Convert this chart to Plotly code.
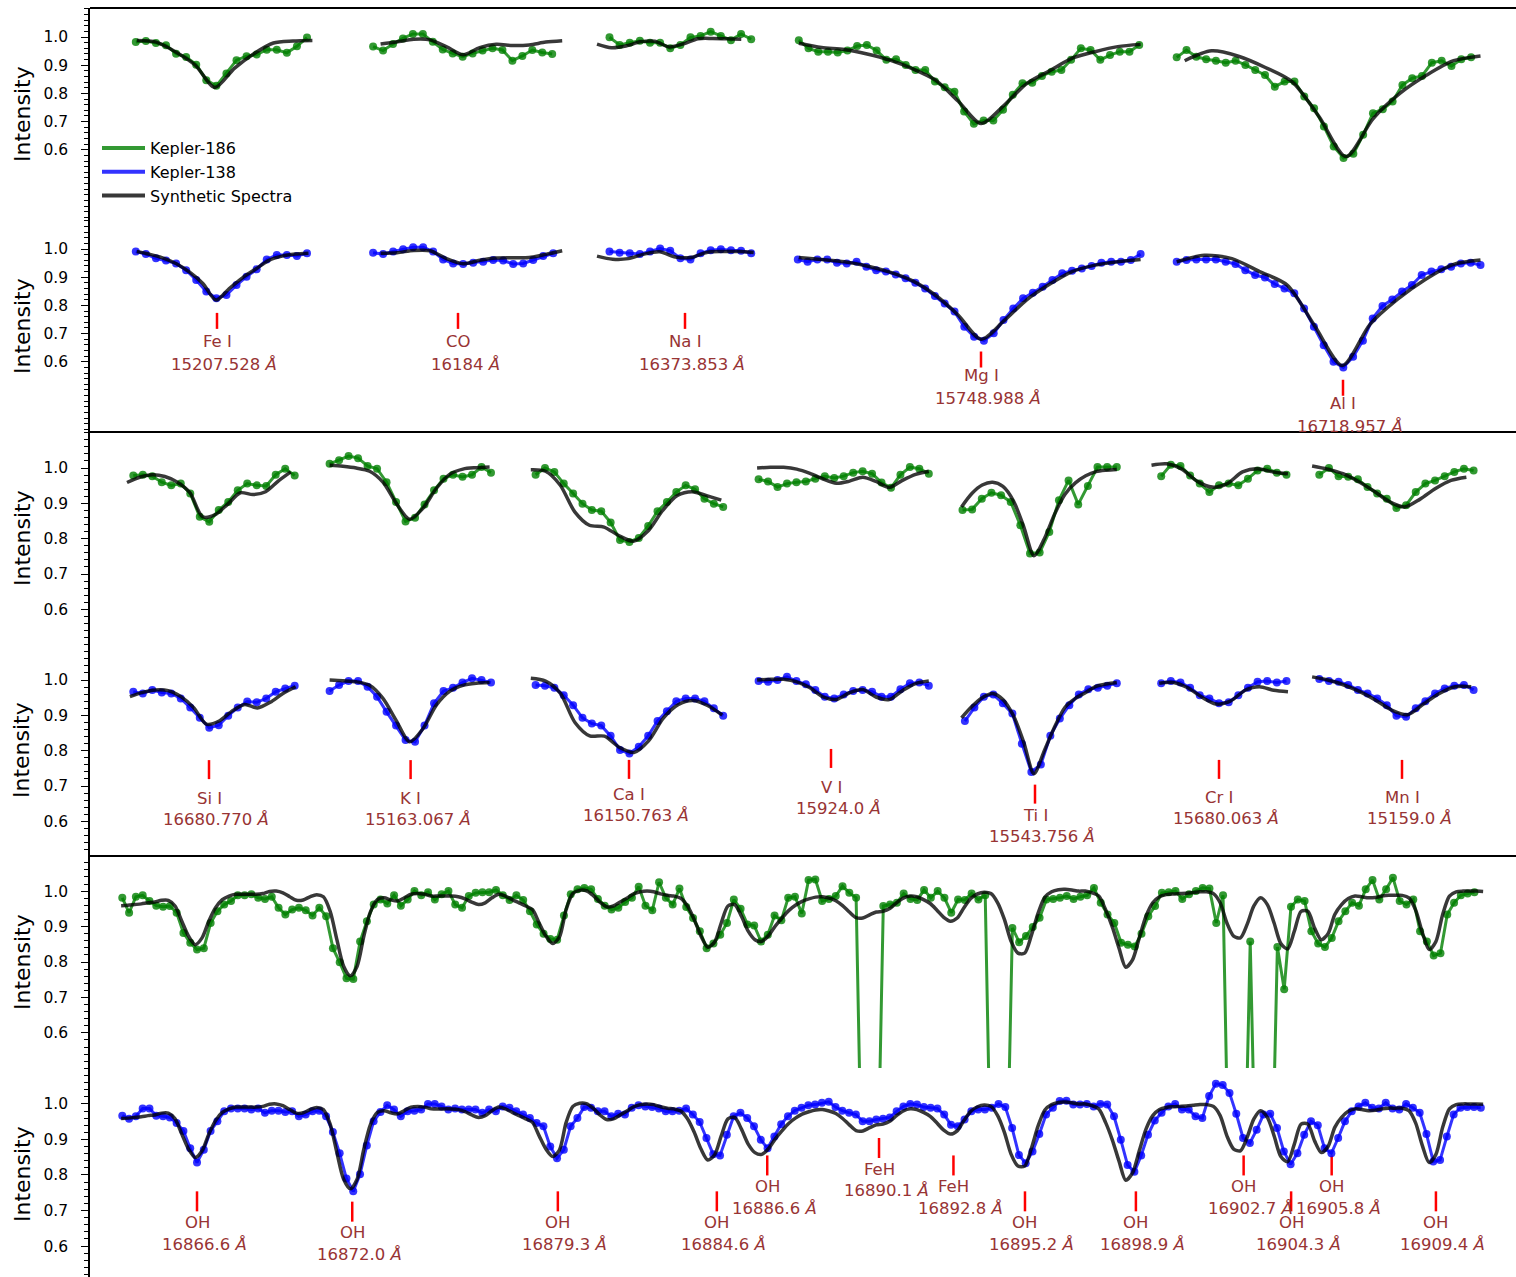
import numpy as np
import plotly.graph_objects as go

# ---------------- DATA (normalised intensity) ----------------
# Panel 1
fe1_k186 = [0.982, 0.986, 0.979, 0.971, 0.941, 0.929, 0.902, 0.847, 0.827, 0.871, 0.918, 0.932, 0.938, 0.955, 0.955, 0.944, 0.967, 0.998]
fe1_k138 = [0.991, 0.982, 0.967, 0.959, 0.949, 0.925, 0.890, 0.849, 0.825, 0.837, 0.872, 0.902, 0.928, 0.963, 0.979, 0.979, 0.975, 0.985]
fe1_syn186 = [0.988, 0.982, 0.947, 0.900, 0.821, 0.889, 0.941, 0.979, 0.986, 0.988]
fe1_syn138 = [0.991, 0.981, 0.968, 0.948, 0.918, 0.878, 0.819, 0.860, 0.898, 0.929, 0.960, 0.975, 0.982, 0.985]

co_k186 = [0.966, 0.952, 0.975, 0.995, 1.011, 1.011, 0.983, 0.956, 0.942, 0.930, 0.942, 0.952, 0.960, 0.954, 0.916, 0.933, 0.954, 0.945, 0.940]
co_k138 = [0.987, 0.982, 0.991, 0.999, 1.006, 1.006, 0.991, 0.963, 0.949, 0.947, 0.951, 0.955, 0.961, 0.959, 0.947, 0.949, 0.961, 0.975, 0.985]
co_syn186 = [0.975, 0.983, 0.992, 0.990, 0.965, 0.937, 0.962, 0.974, 0.970, 0.972, 0.982, 0.987]
co_syn138 = [0.985, 0.987, 0.995, 0.994, 0.966, 0.948, 0.960, 0.968, 0.969, 0.970, 0.981, 0.994]

na1_k186 = [0.999, 0.972, 0.980, 0.987, 0.980, 0.980, 0.960, 0.972, 0.999, 1.004, 1.019, 1.004, 0.989, 1.011, 0.992]
na1_k138 = [0.991, 0.987, 0.985, 0.982, 0.991, 1.002, 0.994, 0.967, 0.963, 0.985, 0.996, 0.999, 0.996, 0.994, 0.985]
na1_syn186 = [0.975, 0.962, 0.968, 0.983, 0.985, 0.965, 0.976, 0.994, 0.995, 0.994, 0.992]
na1_syn138 = [0.975, 0.964, 0.966, 0.982, 0.990, 0.972, 0.970, 0.988, 0.991, 0.991, 0.988]

mg1_k186 = [0.989, 0.960, 0.948, 0.948, 0.945, 0.952, 0.968, 0.972, 0.952, 0.919, 0.921, 0.901, 0.883, 0.883, 0.842, 0.822, 0.806, 0.736,
            0.692, 0.704, 0.704, 0.742, 0.795, 0.836, 0.838, 0.862, 0.877, 0.883, 0.919, 0.960, 0.954, 0.919, 0.936, 0.948, 0.948, 0.972]
mg1_k138 = [0.963, 0.955, 0.963, 0.963, 0.951, 0.949, 0.955, 0.937, 0.925, 0.920, 0.910, 0.896, 0.880, 0.860, 0.833, 0.807, 0.778, 0.724,
            0.689, 0.675, 0.701, 0.748, 0.789, 0.825, 0.845, 0.866, 0.890, 0.914, 0.923, 0.931, 0.940, 0.951, 0.955, 0.955, 0.961, 0.982]
mg1_syn186 = [0.978, 0.963, 0.956, 0.940, 0.918, 0.887, 0.847, 0.772, 0.693, 0.757, 0.835, 0.880, 0.925, 0.948, 0.966, 0.974]
mg1_syn138 = [0.970, 0.963, 0.955, 0.940, 0.918, 0.887, 0.836, 0.765, 0.680, 0.745, 0.820, 0.875, 0.920, 0.943, 0.955, 0.963]

al1_k186 = [0.928, 0.954, 0.930, 0.921, 0.916, 0.909, 0.916, 0.901, 0.883, 0.865, 0.824, 0.842, 0.842, 0.789, 0.747, 0.683, 0.612, 0.571,
            0.586, 0.653, 0.730, 0.744, 0.771, 0.830, 0.854, 0.862, 0.909, 0.916, 0.897, 0.921, 0.928]
al1_k138 = [0.955, 0.961, 0.963, 0.963, 0.963, 0.955, 0.947, 0.925, 0.908, 0.899, 0.876, 0.860, 0.843, 0.789, 0.724, 0.659, 0.600, 0.580,
            0.618, 0.675, 0.754, 0.798, 0.821, 0.849, 0.872, 0.908, 0.920, 0.928, 0.937, 0.949, 0.951, 0.943]
al1_syn186 = [0.916, 0.951, 0.932, 0.892, 0.841, 0.717, 0.576, 0.710, 0.800, 0.865, 0.916, 0.933]
al1_syn138 = [0.955, 0.978, 0.966, 0.920, 0.872, 0.727, 0.587, 0.733, 0.822, 0.892, 0.945, 0.961]

# Panel 2
si1_k186 = [0.979, 0.981, 0.977, 0.960, 0.951, 0.956, 0.928, 0.862, 0.848, 0.881, 0.904, 0.937, 0.956, 0.951, 0.949, 0.981, 0.998, 0.979]
si1_k138 = [0.967, 0.962, 0.972, 0.965, 0.962, 0.948, 0.922, 0.893, 0.865, 0.872, 0.899, 0.922, 0.939, 0.937, 0.948, 0.967, 0.976, 0.984]
si1_syn186 = [0.959, 0.974, 0.981, 0.976, 0.960, 0.930, 0.862, 0.868, 0.898, 0.930, 0.925, 0.933, 0.963, 0.989]
si1_syn138 = [0.953, 0.965, 0.972, 0.970, 0.953, 0.922, 0.875, 0.884, 0.912, 0.931, 0.921, 0.937, 0.962, 0.981]

k1_k186 = [1.012, 1.022, 1.034, 1.028, 1.006, 0.998, 0.960, 0.904, 0.849, 0.859, 0.897, 0.937, 0.970, 0.981, 0.975, 0.981, 1.003, 0.987]
k1_k138 = [0.969, 0.986, 0.997, 0.997, 0.981, 0.953, 0.910, 0.871, 0.830, 0.825, 0.871, 0.934, 0.969, 0.978, 0.993, 1.005, 1.000, 0.993]
k1_syn186 = [1.008, 1.005, 1.000, 0.991, 0.960, 0.900, 0.855, 0.886, 0.942, 0.982, 0.997, 1.001, 1.003]
k1_syn138 = [1.000, 0.998, 0.995, 0.985, 0.948, 0.885, 0.825, 0.862, 0.929, 0.968, 0.985, 0.991, 0.993]

ca1_k186 = [0.981, 1.000, 0.989, 0.956, 0.928, 0.899, 0.881, 0.878, 0.846, 0.796, 0.791, 0.802, 0.836, 0.878, 0.904, 0.932, 0.951, 0.940, 0.913, 0.899, 0.890]
ca1_k138 = [0.986, 0.984, 0.978, 0.957, 0.929, 0.893, 0.877, 0.871, 0.842, 0.802, 0.792, 0.811, 0.842, 0.884, 0.912, 0.940, 0.948, 0.948, 0.940, 0.920, 0.899]
ca1_syn186 = [0.995, 0.991, 0.952, 0.876, 0.838, 0.833, 0.809, 0.793, 0.822, 0.880, 0.922, 0.933, 0.922, 0.909]
ca1_syn138 = [1.005, 0.997, 0.963, 0.880, 0.842, 0.841, 0.810, 0.795, 0.828, 0.892, 0.930, 0.942, 0.928, 0.901]

v1_k186 = [0.968, 0.962, 0.946, 0.956, 0.960, 0.962, 0.970, 0.977, 0.972, 0.977, 0.987, 0.991, 0.984, 0.959, 0.944, 0.981, 1.003, 0.998, 0.984]
v1_k138 = [0.997, 0.995, 1.000, 1.009, 0.997, 0.988, 0.972, 0.953, 0.948, 0.959, 0.969, 0.972, 0.967, 0.953, 0.953, 0.974, 0.991, 0.993, 0.984]
v1_syn186 = [1.000, 1.002, 1.002, 0.997, 0.985, 0.969, 0.957, 0.963, 0.974, 0.962, 0.945, 0.965, 0.982, 0.991]
v1_syn138 = [1.000, 1.002, 1.002, 0.995, 0.978, 0.952, 0.945, 0.964, 0.973, 0.952, 0.945, 0.970, 0.990, 0.997]

ti1_k186 = [0.881, 0.883, 0.913, 0.930, 0.923, 0.904, 0.838, 0.758, 0.761, 0.819, 0.909, 0.965, 0.897, 0.949, 1.003, 1.003, 1.003]
ti1_k138 = [0.884, 0.922, 0.953, 0.959, 0.934, 0.905, 0.820, 0.740, 0.761, 0.842, 0.891, 0.929, 0.959, 0.974, 0.978, 0.984, 0.991]
ti1_syn186 = [0.890, 0.928, 0.952, 0.960, 0.948, 0.908, 0.835, 0.752, 0.800, 0.870, 0.926, 0.958, 0.978, 0.990, 0.994, 0.996]
ti1_syn138 = [0.893, 0.925, 0.950, 0.962, 0.945, 0.900, 0.825, 0.735, 0.800, 0.868, 0.923, 0.948, 0.965, 0.982, 0.989, 0.993]

cr1_k186 = [0.977, 1.009, 1.006, 0.979, 0.956, 0.932, 0.951, 0.956, 0.951, 0.970, 0.993, 0.998, 0.987, 0.981]
cr1_k138 = [0.991, 0.997, 0.993, 0.978, 0.957, 0.948, 0.934, 0.937, 0.957, 0.978, 0.995, 0.997, 0.993, 0.997]
cr1_syn186 = [1.008, 1.012, 0.997, 0.963, 0.946, 0.956, 0.989, 0.998, 0.989, 0.984]
cr1_syn138 = [0.991, 0.993, 0.978, 0.951, 0.932, 0.941, 0.971, 0.981, 0.971, 0.967]

mn1_k186 = [0.981, 1.000, 0.977, 0.975, 0.968, 0.946, 0.928, 0.913, 0.887, 0.895, 0.932, 0.956, 0.965, 0.977, 0.989, 0.998, 0.993]
mn1_k138 = [1.003, 0.997, 0.995, 0.986, 0.972, 0.962, 0.948, 0.929, 0.899, 0.896, 0.920, 0.940, 0.962, 0.976, 0.984, 0.986, 0.972]
mn1_syn186 = [1.006, 0.997, 0.984, 0.962, 0.935, 0.905, 0.890, 0.912, 0.942, 0.965, 0.974]
mn1_syn138 = [1.009, 1.000, 0.986, 0.967, 0.943, 0.915, 0.902, 0.932, 0.962, 0.981, 0.981]

# Panel 3 (continuous region, 16864-16911 A); 0.0 = bad pixels that fall off the axis
p3_k186 = [
    0.981, 0.939, 0.984, 0.988, 0.972, 0.959, 0.956, 0.958, 0.939, 0.882,
    0.854, 0.835, 0.839, 0.910, 0.943, 0.962, 0.972, 0.988, 0.988, 0.991,
    0.981, 0.978, 0.984, 0.953, 0.934, 0.948, 0.953, 0.946, 0.931, 0.953,
    0.929, 0.839, 0.799, 0.754, 0.752, 0.858, 0.915, 0.962, 0.976, 0.965,
    0.988, 0.959, 0.976, 1.000, 0.988, 0.997, 0.976, 0.991, 1.000, 0.962,
    0.953, 0.986, 0.995, 0.997, 0.997, 1.003, 0.988, 0.975, 0.988, 0.975,
    0.943, 0.906, 0.880, 0.865, 0.863, 0.931, 0.991,
    1.005, 1.009, 1.005, 0.978, 0.959, 0.948, 0.953, 0.969, 0.981, 1.012,
    0.959, 0.946, 1.025, 0.981, 0.962, 1.007, 0.955, 0.924, 0.887, 0.839,
    0.852, 0.877, 0.910, 0.976, 0.950, 0.906, 0.903, 0.858, 0.877, 0.931,
    0.918, 0.981, 0.984, 0.937, 1.031, 1.033, 0.972, 0.978, 0.986, 1.014,
    0.995, 0.981,
    0.0, 0.0, 0.0,
    0.958, 0.962, 0.967, 0.993, 0.978, 0.975, 1.003, 0.981, 1.000, 0.981, 0.939, 0.976, 0.975, 0.993, 0.976, 0.988,
    0.0, 0.0, 0.0,
    0.896, 0.856, 0.873, 0.899, 0.925,
    0.976, 0.978, 0.981, 0.986, 0.978, 0.984, 0.988, 1.009, 0.967, 0.934, 0.910, 0.854, 0.849, 0.844, 0.880,
    0.929, 0.958, 0.995, 0.997, 1.000, 0.978, 0.991, 1.000, 1.009, 1.007, 0.910, 0.988,
    0.0, 0.0, 0.0,
    0.858,
    0.0, 0.0, 0.0,
    0.842, 0.723, 0.956, 0.976, 0.972, 0.887, 0.852, 0.842, 0.868, 0.915,
    0.943, 0.967, 0.959, 1.005, 1.031, 0.976, 1.005, 1.038, 0.972, 0.962,
    0.976, 0.887, 0.858, 0.818, 0.825, 0.934, 0.967, 0.988, 0.993, 0.997,
]
p3_k138 = [
    0.967, 0.958, 0.965, 0.987, 0.987, 0.967, 0.965, 0.962, 0.946, 0.924,
    0.875, 0.835, 0.871, 0.924, 0.951, 0.979, 0.987, 0.987, 0.987, 0.984,
    0.987, 0.975, 0.981, 0.981, 0.977, 0.979, 0.965, 0.970, 0.979, 0.981,
    0.965, 0.921, 0.861, 0.790, 0.754, 0.802, 0.883, 0.951, 0.977, 0.996,
    0.984, 0.965, 0.979, 0.981, 0.984, 1.000, 1.000, 0.993, 0.984, 0.987,
    0.984, 0.984, 0.984, 0.975, 0.984, 0.979, 0.993, 0.989, 0.979, 0.970,
    0.960, 0.946, 0.937, 0.880, 0.847, 0.871, 0.937,
    0.960, 0.991, 0.989, 0.979, 0.979, 0.965, 0.972, 0.970, 0.989, 0.996,
    0.993, 0.991, 0.987, 0.979, 0.979, 0.981, 0.987, 0.970, 0.949, 0.904,
    0.858, 0.855, 0.913, 0.965, 0.975, 0.960, 0.937, 0.899, 0.875, 0.908,
    0.943, 0.965, 0.981, 0.989, 0.996, 0.998, 1.003, 1.006, 0.991, 0.981,
    0.975, 0.970, 0.951, 0.951, 0.956, 0.958, 0.962, 0.979, 0.993, 1.000,
    0.998, 0.991, 0.989, 0.987, 0.970, 0.941, 0.937, 0.956, 0.979, 0.984,
    0.984, 0.989, 1.000, 0.991, 0.932, 0.856, 0.833, 0.866, 0.915,
    0.970, 0.989, 1.008, 1.009, 0.998, 0.998, 1.000, 0.993, 1.000, 0.998,
    0.965, 0.899, 0.828, 0.809, 0.855, 0.913, 0.953, 0.975, 0.993, 1.000,
    0.984, 0.984, 0.965, 0.960, 1.022, 1.057, 1.053, 1.031, 0.972, 0.904,
    0.890, 0.927, 0.970, 0.972, 0.932, 0.866, 0.830, 0.861, 0.913, 0.951,
    0.940, 0.875, 0.861, 0.904, 0.951, 0.979, 0.993, 1.003, 0.989, 0.987,
    1.003, 0.987, 0.984, 1.000, 0.989, 0.975, 0.915, 0.838, 0.842, 0.908,
    0.970, 0.989, 0.991, 0.991, 0.989,
]
p3_syn = [
    0.959, 0.960, 0.962, 0.964, 0.967, 0.969, 0.974, 0.974, 0.958, 0.915,
    0.873, 0.849, 0.868, 0.915, 0.953, 0.976, 0.986, 0.991, 0.991, 0.991,
    0.991, 0.993, 0.999, 1.000, 0.995, 0.984, 0.974, 0.975, 0.984, 0.990,
    0.984, 0.943, 0.863, 0.788, 0.761, 0.788, 0.873, 0.943, 0.976, 0.981,
    0.975, 0.972, 0.981, 0.991, 0.993, 0.991, 0.986, 0.986, 0.986, 0.986,
    0.984, 0.978, 0.969, 0.962, 0.967, 0.981, 0.991, 0.986, 0.976, 0.967,
    0.958, 0.948, 0.910, 0.873, 0.852, 0.870,
    0.948, 0.993, 1.002, 1.001, 0.988, 0.969, 0.956, 0.958, 0.969, 0.980,
    0.992, 0.998, 1.000, 0.998, 0.992, 0.988, 0.986, 0.980, 0.958, 0.920,
    0.873, 0.842, 0.856, 0.910, 0.958, 0.962, 0.929, 0.887, 0.863, 0.858,
    0.874, 0.901, 0.924, 0.945, 0.960, 0.971, 0.978, 0.983, 0.984, 0.980,
    0.973, 0.959, 0.941, 0.925, 0.924, 0.933, 0.941, 0.943, 0.951, 0.967,
    0.980, 0.986, 0.984, 0.976, 0.965, 0.946, 0.926, 0.915, 0.924, 0.953,
    0.979, 0.992, 0.997, 0.993, 0.967, 0.920, 0.858, 0.825, 0.825, 0.875,
    0.938,
    0.983, 0.998, 1.004, 1.005, 1.003, 1.000, 1.000, 0.995, 0.986, 0.948,
    0.899, 0.839, 0.785, 0.806, 0.868, 0.929, 0.967, 0.984, 0.990, 0.992,
    0.993, 0.994, 0.996, 0.998, 0.998, 0.993, 0.967, 0.910, 0.873, 0.868,
    0.906, 0.958, 0.981, 0.962, 0.910, 0.852, 0.837, 0.887, 0.943, 0.943,
    0.896, 0.863, 0.880, 0.934, 0.962, 0.979, 0.986, 0.984, 0.981, 0.982,
    0.986, 0.988, 0.988, 0.988, 0.981, 0.946, 0.882, 0.835, 0.858, 0.934,
    0.986, 0.998, 1.000, 1.000, 1.000, 0.999,
]
p3_k186_wl = (16864.02, 16910.71)   # first / last wavelength (A)
p3_k138_wl = (16864.02, 16910.93)
p3_syn_wl = (16863.98, 16911.01)

p3_species = ["OH", "OH", "OH", "OH", "OH", "FeH", "FeH", "OH", "OH", "OH", "OH", "OH", "OH"]
p3_label_wl = ["16866.6", "16872.0", "16879.3", "16884.6", "16886.6", "16890.1", "16892.8",
               "16895.2", "16898.9", "16902.7", "16904.3", "16905.8", "16909.4"]
p3_mark_wl = [16866.60, 16871.96, 16879.06, 16884.55, 16886.29, 16890.15, 16892.72,
              16895.19, 16899.02, 16902.74, 16904.38, 16905.78, 16909.38]

p1_species = ["Fe I", "CO", "Na I", "Mg I", "Al I"]
p1_label_wl = ["15207.528", "16184", "16373.853", "15748.988", "16718.957"]
p2_species = ["Si I", "K I", "Ca I", "V I", "Ti I", "Cr I", "Mn I"]
p2_label_wl = ["16680.770", "15163.067", "16150.763", "15924.0", "15543.756", "15680.063", "15159.0"]

# ---------------- LAYOUT (positions / styles) ----------------
W, H = 1516, 1277
XL = 90
FONT = "DejaVu Sans"
C186 = "rgba(0,128,0,0.8)"
C138 = "rgba(0,0,255,0.8)"
CSYN = "rgba(0,0,0,0.78)"
LBL = "#983434"


def pyp(p):
    return 1 - p / H


# segment slots on the panel x axes (image columns), per segment:
# data-top, data-bottom, synth-top, synth-bottom, marker x, marker top, text y
P1_SEGS = [
    (fe1_k186, fe1_k138, fe1_syn186, fe1_syn138),
    (co_k186, co_k138, co_syn186, co_syn138),
    (na1_k186, na1_k138, na1_syn186, na1_syn138),
    (mg1_k186, mg1_k138, mg1_syn186, mg1_syn138),
    (al1_k186, al1_k138, al1_syn186, al1_syn138),
]
P1_POS = [
    ((135.8, 307.0), (135.8, 307.0), (136.8, 312.4), (136.8, 308.5), 217, 0.7735, 0.671),
    ((373.1, 552.2), (373.1, 553.2), (380.6, 562.2), (380.6, 562.2), 458, 0.7735, 0.671),
    ((609.5, 751.2), (609.5, 751.2), (597.0, 741.3), (597.0, 753.7), 685, 0.7735, 0.671),
    ((798.8, 1139.2), (797.8, 1140.6), (798.8, 1140.6), (798.8, 1140.6), 981, 0.6365, 0.5504),
    ((1176.7, 1471.1), (1176.7, 1480.5), (1184.7, 1480.5), (1176.7, 1480.5), 1343, 0.5363, 0.4513),
]
P2_SEGS = [
    (si1_k186, si1_k138, si1_syn186, si1_syn138),
    (k1_k186, k1_k138, k1_syn186, k1_syn138),
    (ca1_k186, ca1_k138, ca1_syn186, ca1_syn138),
    (v1_k186, v1_k138, v1_syn186, v1_syn138),
    (ti1_k186, ti1_k138, ti1_syn186, ti1_syn138),
    (cr1_k186, cr1_k138, cr1_syn186, cr1_syn138),
    (mn1_k186, mn1_k138, mn1_syn186, mn1_syn138),
]
P2_POS = [
    ((133.3, 294.7), (133.3, 294.7), (127.0, 290.8), (129.9, 295.7), 209, 0.7734, 0.6646),
    ((329.6, 491.0), (329.6, 491.0), (329.6, 489.6), (329.6, 489.6), 410.6, 0.7734, 0.6646),
    ((535.6, 723.2), (535.6, 723.2), (530.8, 721.3), (530.8, 722.2), 629, 0.774, 0.676),
    ((758.6, 928.8), (758.6, 928.8), (757.1, 928.8), (757.1, 928.8), 831, 0.805, 0.695),
    ((962.5, 1116.8), (964.9, 1116.8), (961.5, 1116.8), (961.5, 1116.8), 1035, 0.704, 0.6176),
    ((1161.2, 1286.5), (1161.2, 1286.5), (1151.5, 1288.0), (1159.2, 1288.0), 1219, 0.774, 0.667),
    ((1319.3, 1473.6), (1319.3, 1473.6), (1312.1, 1466.4), (1312.1, 1471.2), 1402, 0.774, 0.667),
]
P3_MARK_TOP = [0.754, 0.725, 0.754, 0.754, 0.855, 0.904, 0.855, 0.754, 0.754, 0.855, 0.754, 0.855, 0.754]

fig = go.Figure()
shapes, annos = [], []


def data_trace(x, y, color, xa, ya):
    fig.add_trace(go.Scatter(x=x, y=y, mode="lines+markers", xaxis=xa, yaxis=ya,
                             line=dict(color=color, width=3), marker=dict(color=color, size=8),
                             showlegend=False, hoverinfo="skip"))


def syn_trace(x, y, xa, ya):
    fig.add_trace(go.Scatter(x=x, y=y, mode="lines", xaxis=xa, yaxis=ya,
                             line=dict(color=CSYN, width=3.5, shape="spline", smoothing=0.8),
                             showlegend=False, hoverinfo="skip"))


def label(xa, ya, mx, mtop, ty, name, wave, mlen, gap):
    shapes.append(dict(type="line", xref=xa, yref=ya, x0=mx, x1=mx, ysizemode="pixel",
                       yanchor=mtop, y0=0, y1=-mlen, line=dict(color="red", width=2.5), layer="below"))
    f = dict(family=FONT, size=16.5, color=LBL)
    annos.append(dict(x=mx, y=ty, xref=xa, yref=ya, text=name, showarrow=False, font=f,
                      xanchor="center", yanchor="middle"))
    annos.append(dict(x=mx, y=ty, xref=xa, yref=ya, text=f"{wave} <i>Å</i>", showarrow=False, font=f,
                      xanchor="center", yanchor="middle", yshift=-gap, xshift=7))


def build_panel(segs, pos, species, waves, xa, ya_top, ya_bot, mlen, gap):
    for (k186, k138, s186, s138), (dt, db, st, sb, mx, mtop, ty), nm, wv in zip(segs, pos, species, waves):
        data_trace(np.linspace(dt[0], dt[1], len(k186)), k186, C186, xa, ya_top)
        syn_trace(np.linspace(st[0], st[1], len(s186)), s186, xa, ya_top)
        data_trace(np.linspace(db[0], db[1], len(k138)), k138, C138, xa, ya_bot)
        syn_trace(np.linspace(sb[0], sb[1], len(s138)), s138, xa, ya_bot)
        label(xa, ya_bot, mx, mtop, ty, nm, wv, mlen, gap)


build_panel(P1_SEGS, P1_POS, p1_species, p1_label_wl, "x", "y", "y2", 16, 23)
build_panel(P2_SEGS, P2_POS, p2_species, p2_label_wl, "x2", "y3", "y4", 19, 21)

# panel 3
data_trace(np.linspace(*p3_k186_wl, len(p3_k186)), p3_k186, C186, "x3", "y5")
syn_trace(np.linspace(*p3_syn_wl, len(p3_syn)), p3_syn, "x3", "y5")
data_trace(np.linspace(*p3_k138_wl, len(p3_k138)), p3_k138, C138, "x3", "y6")
syn_trace(np.linspace(*p3_syn_wl, len(p3_syn)), p3_syn, "x3", "y6")
for sp, lw, mw, mt in zip(p3_species, p3_label_wl, p3_mark_wl, P3_MARK_TOP):
    label("x3", "y6", mw, mt, mt - 0.088, sp, lw, 20, 21.5)

# legend entries
for nm, col in [("Kepler-186", C186), ("Kepler-138", C138), ("Synthetic Spectra", CSYN)]:
    fig.add_trace(go.Scatter(x=[None], y=[None], mode="lines", name=nm, legendgroup=nm,
                             line=dict(color=col, width=4), xaxis="x", yaxis="y"))

ROWS = [  # (top px, bottom px, y range, anchor x)
    (8, 220, [0.351, 1.103], "x"),
    (220, 432, [0.351, 1.103], "x"),
    (432, 644, [0.502, 1.102], "x2"),
    (644, 856, [0.502, 1.102], "x2"),
    (856, 1068, [0.501, 1.099], "x3"),
    (1068, 1277, [0.513, 1.101], "x3"),
]
layout = {}
for i, (t, b, rng, xa) in enumerate(ROWS):
    key = "yaxis" if i == 0 else f"yaxis{i + 1}"
    layout[key] = dict(domain=[pyp(b), pyp(t)], range=rng, anchor=xa,
                       tickmode="array", tickvals=[0.6, 0.7, 0.8, 0.9, 1.0],
                       ticktext=["0.6", "0.7", "0.8", "0.9", "1.0"],
                       ticks="outside", ticklen=7, tickwidth=1.3, tickcolor="black",
                       ticklabelstandoff=10,
                       showline=True, linecolor="black", linewidth=1.5,
                       showgrid=False, zeroline=False,
                       tickfont=dict(family=FONT, size=15.5, color="black"),
                       minor=dict(tickmode="linear", tick0=0, dtick=0.02, ticks="outside",
                                  ticklen=4, tickwidth=1, tickcolor="black", showgrid=False))
    annos.append(dict(x=22 / W, y=pyp((t + (b if b < 1277 else 1280)) / 2), xref="paper", yref="paper",
                      text="Intensity", textangle=-90, showarrow=False,
                      font=dict(family=FONT, size=22, color="black"),
                      xanchor="center", yanchor="middle"))

xdom = [XL / W, 1]
layout["xaxis"] = dict(domain=xdom, range=[XL, W], anchor="y2", visible=False)
layout["xaxis2"] = dict(domain=xdom, range=[XL, W], anchor="y4", visible=False)
layout["xaxis3"] = dict(domain=xdom, range=[16862.905, 16912.145], anchor="y6", visible=False)

for p in (8, 432, 856):
    shapes.append(dict(type="line", xref="paper", yref="paper", x0=XL / W, x1=1,
                       y0=pyp(p), y1=pyp(p), line=dict(color="black", width=2)))

fig.update_layout(
    width=W, height=H, margin=dict(l=0, r=0, t=0, b=0),
    paper_bgcolor="white", plot_bgcolor="white",
    showlegend=True,
    legend=dict(x=97 / W, y=pyp(131), xanchor="left", yanchor="top",
                bgcolor="rgba(0,0,0,0)", font=dict(family=FONT, size=16, color="black"),
                tracegroupgap=0, itemwidth=43),
    shapes=shapes, annotations=annos, **layout)

fig.write_html("out.html")
